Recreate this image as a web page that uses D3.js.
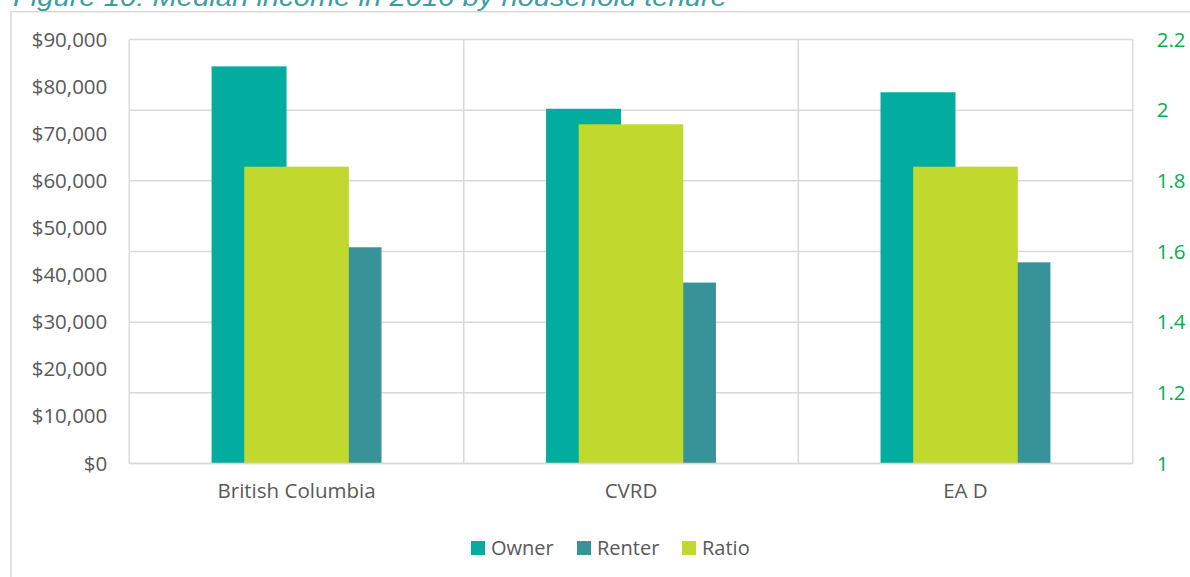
<!DOCTYPE html>
<html>
<head>
<meta charset="utf-8">
<script src="https://cdn.jsdelivr.net/npm/d3@7"></script>
<style>
  html, body { margin: 0; padding: 0; background: #fff; }
  svg { display: block; }
</style>
</head>
<body>
<svg id="chart" width="1190" height="577"></svg>
<script>
// ---- Data ----
const categories = ["British Columbia", "CVRD", "EA D"];
const ownerIncome = [84300, 75300, 78800];
const renterIncome = [45900, 38400, 42700];
const ratioValues = [1.84, 1.96, 1.84];
const leftTicks = [0, 10000, 20000, 30000, 40000, 50000, 60000, 70000, 80000, 90000];
const rightTicks = [1, 1.2, 1.4, 1.6, 1.8, 2, 2.2];
const seriesNames = ["Owner", "Renter", "Ratio"];
const titleText = "Figure 10: Median income in 2016 by household tenure";

// ---- Styles ----
const colors = { Owner: "#02AD9F", Renter: "#389399", Ratio: "#C1D82F" };
const gridColor = "#D9D9D9";
const textColor = "#595959";
const rightColor = "#00B050";
const font = "'Open Sans', 'Noto Sans', sans-serif";

const svg = d3.select("#chart");
const plot = { left: 129.3, right: 1132.7, top: 39.5, bottom: 463.5 };

// Outer chart border (extends past the window)
svg.append("rect")
  .attr("x", 11).attr("y", 11.7)
  .attr("width", 1300).attr("height", 700)
  .attr("fill", "none").attr("stroke", gridColor).attr("stroke-width", 1.5);

// Title (partially cut off at the top, as in the reference)
svg.append("text")
  .attr("x", 13).attr("y", 6)
  .attr("font-family", "'Liberation Sans', Arial, sans-serif")
  .attr("font-style", "italic")
  .attr("font-size", 26)
  .attr("fill", "#3A9FA5")
  .attr("textLength", 714)
  .attr("lengthAdjust", "spacingAndGlyphs")
  .text(titleText);

// Scales
const x = d3.scaleBand().domain(categories).range([plot.left, plot.right]).padding(0);
const bw = x.bandwidth();
const yL = d3.scaleLinear().domain([0, 90000]).range([plot.bottom, plot.top]);
const yR = d3.scaleLinear().domain([1, 2.2]).range([plot.bottom, plot.top]);

const halfSpan = bw * 0.254;
const inner = d3.scaleBand().domain(["Owner", "Renter"])
  .range([bw / 2 - halfSpan, bw / 2 + halfSpan])
  .paddingInner(0.2105).paddingOuter(0);
const ratioW = bw * 0.3127;

// Gridlines (horizontal at secondary ticks)
const g = svg.append("g");
g.selectAll("line.h").data(rightTicks).enter().append("line")
  .attr("x1", plot.left).attr("x2", plot.right)
  .attr("y1", d => yR(d)).attr("y2", d => yR(d))
  .attr("stroke", gridColor).attr("stroke-width", 1.5);
// vertical category separators
const vx = categories.map(c => x(c)).concat([plot.right]);
g.selectAll("line.v").data(vx).enter().append("line")
  .attr("x1", d => d).attr("x2", d => d)
  .attr("y1", plot.top).attr("y2", plot.bottom)
  .attr("stroke", gridColor).attr("stroke-width", 1.5);

// Primary bars
const bars = svg.append("g");
categories.forEach((c, i) => {
  [["Owner", ownerIncome[i]], ["Renter", renterIncome[i]]].forEach(([s, v]) => {
    bars.append("rect")
      .attr("x", x(c) + inner(s))
      .attr("width", inner.bandwidth())
      .attr("y", yL(v))
      .attr("height", yL(0) - yL(v))
      .attr("fill", colors[s]);
  });
});
// Secondary bars (ratio)
categories.forEach((c, i) => {
  bars.append("rect")
    .attr("x", x(c) + (bw - ratioW) / 2)
    .attr("width", ratioW)
    .attr("y", yR(ratioValues[i]))
    .attr("height", yR(1) - yR(ratioValues[i]))
    .attr("fill", colors.Ratio);
});

// Bottom axis line
svg.append("line")
  .attr("x1", plot.left).attr("x2", plot.right)
  .attr("y1", plot.bottom).attr("y2", plot.bottom)
  .attr("stroke", gridColor).attr("stroke-width", 1.5);

// Left axis
const leftAxis = d3.axisLeft(yL).tickValues(leftTicks)
  .tickFormat(d => "$" + d3.format(",")(d)).tickSize(0).tickPadding(22);
const la = svg.append("g").attr("transform", `translate(${plot.left},0)`).call(leftAxis);
la.select(".domain").remove();
la.selectAll("text").attr("font-family", font).attr("font-size", 20.5).attr("fill", textColor);

// Right axis
const rightAxis = d3.axisRight(yR).tickValues(rightTicks)
  .tickFormat(d => d3.format("")(+d.toFixed(1))).tickSize(0).tickPadding(24);
const ra = svg.append("g").attr("transform", `translate(${plot.right},0)`).call(rightAxis);
ra.select(".domain").remove();
ra.selectAll("text").attr("font-family", font).attr("font-size", 20.5).attr("fill", rightColor);

// Category axis
const bottomAxis = d3.axisBottom(x).tickSize(0).tickPadding(20);
const ba = svg.append("g").attr("transform", `translate(0,${plot.bottom})`).call(bottomAxis);
ba.select(".domain").remove();
ba.selectAll("text").attr("font-family", font).attr("font-size", 20.5).attr("fill", textColor);

// Legend
const legendX = [471, 577, 682];
const leg = svg.append("g");
seriesNames.forEach((s, i) => {
  leg.append("rect").attr("x", legendX[i]).attr("y", 541).attr("width", 14).attr("height", 14)
    .attr("fill", colors[s]);
  leg.append("text").attr("x", legendX[i] + 20).attr("y", 548).attr("dy", "0.35em")
    .attr("font-family", font).attr("font-size", 20).attr("fill", textColor).text(s);
});
</script>
</body>
</html>
